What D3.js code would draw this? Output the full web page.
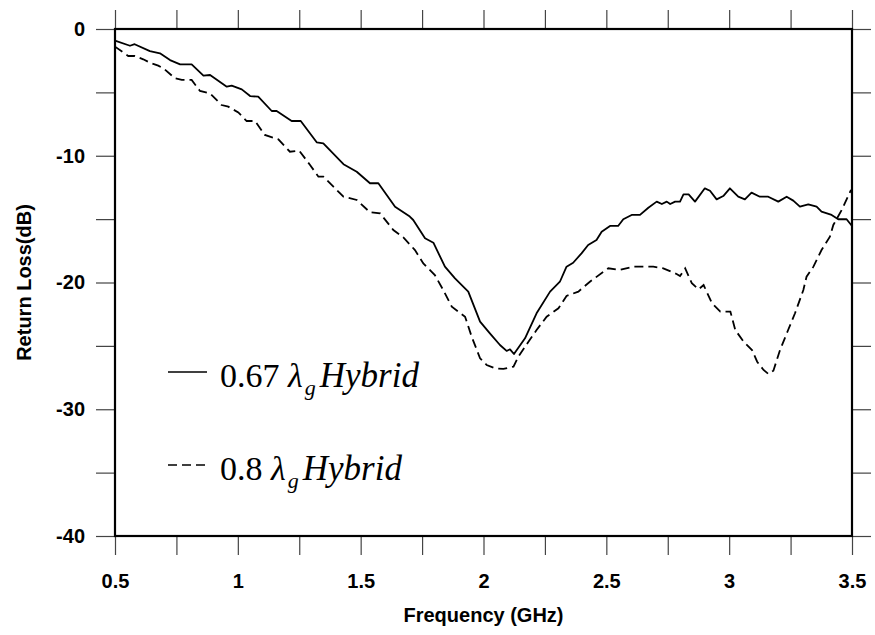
<!DOCTYPE html>
<html>
<head>
<meta charset="utf-8">
<script src="https://cdn.jsdelivr.net/npm/d3@7"></script>
<style>
  body { margin: 0; background: #fff; }
  svg text { fill: #000; }
</style>
</head>
<body>
<div id="chart"></div>
<script>
// 0.67 lambda_g hybrid (solid line): [frequency GHz, return loss dB]
const hybrid067 = [
  [0.50, -0.92], [0.561, -1.32], [0.58, -1.2], [0.642, -1.74], [0.683, -1.92],
  [0.724, -2.45], [0.765, -2.79], [0.812, -2.79], [0.86, -3.68], [0.887, -3.63],
  [0.955, -4.55], [0.975, -4.47], [1.016, -4.76], [1.05, -5.29], [1.083, -5.34],
  [1.138, -6.47], [1.158, -6.47], [1.219, -7.26], [1.256, -7.26], [1.321, -8.94],
  [1.348, -9.02], [1.43, -10.67], [1.484, -11.26], [1.538, -12.17], [1.572, -12.17],
  [1.64, -14.02], [1.70, -14.8], [1.714, -15.07], [1.762, -16.51], [1.796, -16.86],
  [1.843, -18.75], [1.884, -19.67], [1.938, -20.72], [1.986, -23.09], [2.026, -24.01],
  [2.067, -24.93], [2.094, -25.4], [2.108, -25.27], [2.124, -25.64], [2.169, -24.4],
  [2.216, -22.43], [2.271, -20.72], [2.311, -19.94], [2.338, -18.75], [2.365, -18.44],
  [2.399, -17.7], [2.426, -17.04], [2.46, -16.65], [2.481, -15.99], [2.515, -15.54],
  [2.548, -15.54], [2.569, -15.01], [2.603, -14.67], [2.637, -14.67], [2.671, -14.1],
  [2.705, -13.62], [2.726, -13.81], [2.746, -13.62], [2.76, -13.81], [2.78, -13.62],
  [2.8, -13.62], [2.814, -13.05], [2.835, -13.05], [2.861, -13.62], [2.901, -12.57],
  [2.922, -12.76], [2.949, -13.44], [2.976, -13.18], [3.003, -12.57], [3.037, -13.23],
  [3.064, -13.44], [3.091, -12.91], [3.125, -13.23], [3.159, -13.23], [3.2, -13.62],
  [3.234, -13.23], [3.261, -13.54], [3.288, -14.02], [3.322, -13.83], [3.356, -14.02],
  [3.376, -14.41], [3.417, -14.67], [3.444, -15.01], [3.478, -15.01], [3.5, -15.54]
];

// 0.8 lambda_g hybrid (dashed line)
const hybrid08 = [
  [0.5, -1.39], [0.554, -2.13], [0.58, -2.13], [0.615, -2.39], [0.642, -2.66],
  [0.676, -2.89], [0.697, -3.1], [0.744, -3.89], [0.772, -4.02], [0.812, -4.02],
  [0.846, -4.89], [0.887, -5.08], [0.934, -6.0], [0.961, -6.13], [1.002, -6.58],
  [1.036, -7.26], [1.07, -7.26], [1.11, -8.36], [1.165, -8.71], [1.212, -9.68],
  [1.25, -9.6], [1.294, -10.73], [1.328, -11.65], [1.348, -11.65], [1.389, -12.44],
  [1.43, -13.23], [1.484, -13.49], [1.538, -14.46], [1.579, -14.54], [1.633, -15.86],
  [1.673, -16.43], [1.721, -17.44], [1.755, -18.49], [1.802, -19.41], [1.836, -20.59],
  [1.871, -21.91], [1.925, -22.7], [1.952, -24.28], [1.986, -25.98], [2.013, -26.51],
  [2.047, -26.77], [2.081, -26.82], [2.122, -26.64], [2.142, -25.85], [2.183, -24.67],
  [2.216, -23.75], [2.257, -22.7], [2.305, -22.04], [2.338, -21.06], [2.386, -20.72],
  [2.433, -19.94], [2.508, -18.88], [2.555, -19.01], [2.61, -18.75], [2.691, -18.75],
  [2.732, -18.88], [2.786, -19.33], [2.80, -19.49], [2.821, -18.88], [2.848, -20.06],
  [2.875, -20.54], [2.896, -20.2], [2.93, -21.64], [2.964, -22.3], [3.005, -22.3],
  [3.025, -23.75], [3.059, -24.67], [3.093, -25.33], [3.114, -26.25], [3.14, -26.9],
  [3.16, -27.22], [3.18, -26.96], [3.207, -25.33], [3.24, -23.75], [3.268, -22.43],
  [3.302, -20.59], [3.315, -19.54], [3.343, -18.75], [3.376, -17.44], [3.41, -16.39],
  [3.424, -15.46], [3.458, -14.28], [3.496, -12.7]
];

const xTicks = [0.5, 0.75, 1, 1.25, 1.5, 1.75, 2, 2.25, 2.5, 2.75, 3, 3.25, 3.5];
const xLabels = [0.5, 1, 1.5, 2, 2.5, 3, 3.5];
const yTicks = [0, -5, -10, -15, -20, -25, -30, -35, -40];
const yLabels = [0, -10, -20, -30, -40];

const width = 875;
const height = 635;
const margins = { top: 29, right: 23, bottom: 99, left: 115 };
const tickLen = 19;

const svg = d3.select('#chart').append('svg')
  .attr('width', width)
  .attr('height', height);

const x = d3.scaleLinear().domain([0.5, 3.5]).range([margins.left, width - margins.right]);
const y = d3.scaleLinear().domain([-40, 0]).range([height - margins.bottom, margins.top]);

const labelFont = '"Liberation Sans", Arial, sans-serif';
const fmtX = d => (xLabels.includes(d) ? String(d) : '');
const fmtY = d => (yLabels.includes(d) ? String(d) : '');

function styleAxis(g) {
  g.select('.domain').remove();
  g.selectAll('.tick line').attr('stroke', '#444').attr('stroke-width', 1.2);
  g.selectAll('.tick text')
    .attr('font-family', labelFont)
    .attr('font-weight', 'bold')
    .attr('font-size', 20);
}

svg.append('g')
  .attr('transform', `translate(0,${y(-40)})`)
  .call(d3.axisBottom(x).tickValues(xTicks).tickFormat(fmtX).tickSize(tickLen).tickPadding(19))
  .call(styleAxis);

svg.append('g')
  .attr('transform', `translate(0,${y(0)})`)
  .call(d3.axisTop(x).tickValues(xTicks).tickFormat('').tickSize(tickLen))
  .call(styleAxis);

svg.append('g')
  .attr('transform', `translate(${x(0.5)},0)`)
  .call(d3.axisLeft(y).tickValues(yTicks).tickFormat(fmtY).tickSize(tickLen).tickPadding(11))
  .call(styleAxis);

svg.append('g')
  .attr('transform', `translate(${x(3.5)},0)`)
  .call(d3.axisRight(y).tickValues(yTicks).tickFormat('').tickSize(tickLen))
  .call(styleAxis);

// curves
const line = d3.line().x(d => x(d[0])).y(d => y(d[1]));

svg.append('path')
  .datum(hybrid067)
  .attr('fill', 'none')
  .attr('stroke', '#000')
  .attr('stroke-width', 1.8)
  .attr('stroke-linejoin', 'round')
  .attr('d', line);

svg.append('path')
  .datum(hybrid08)
  .attr('fill', 'none')
  .attr('stroke', '#000')
  .attr('stroke-width', 1.8)
  .attr('stroke-dasharray', '9,5')
  .attr('d', line);

// frame
svg.append('rect')
  .attr('x', x(0.5))
  .attr('y', y(0))
  .attr('width', x(3.5) - x(0.5))
  .attr('height', y(-40) - y(0))
  .attr('fill', 'none')
  .attr('stroke', '#000')
  .attr('stroke-width', 2.2);

// axis titles
svg.append('text')
  .attr('x', (x(0.5) + x(3.5)) / 2)
  .attr('y', 622)
  .attr('text-anchor', 'middle')
  .attr('font-family', labelFont)
  .attr('font-weight', 'bold')
  .attr('font-size', 20)
  .text('Frequency (GHz)');

svg.append('text')
  .attr('transform', `translate(24,${(y(0) + y(-40)) / 2}) rotate(-90)`)
  .attr('dy', '0.35em')
  .attr('text-anchor', 'middle')
  .attr('font-family', labelFont)
  .attr('font-weight', 'bold')
  .attr('font-size', 20)
  .text('Return Loss(dB)');

// legend
const legendItems = [
  { num: '0.67', dash: null, ly: 372 },
  { num: '0.8', dash: '9,5', ly: 465 },
];
const serif = '"Liberation Serif", "Times New Roman", serif';

legendItems.forEach((item) => {
  svg.append('line')
    .attr('x1', 168).attr('x2', 207)
    .attr('y1', item.ly).attr('y2', item.ly)
    .attr('stroke', '#000')
    .attr('stroke-width', 1.5)
    .attr('stroke-dasharray', item.dash);

  const t = svg.append('text')
    .attr('x', 220)
    .attr('y', item.ly + 15)
    .attr('font-family', serif)
    .attr('font-size', 34);
  t.append('tspan').text(`${item.num} `);
  t.append('tspan').attr('font-style', 'italic').text('λ');
  t.append('tspan').attr('font-style', 'italic').attr('font-size', 22).attr('dx', 2).attr('dy', 8).text('g');
  t.append('tspan').attr('font-style', 'italic').attr('font-size', 35).attr('dx', 4).attr('dy', -8).text('Hybrid');
});
</script>
</body>
</html>
